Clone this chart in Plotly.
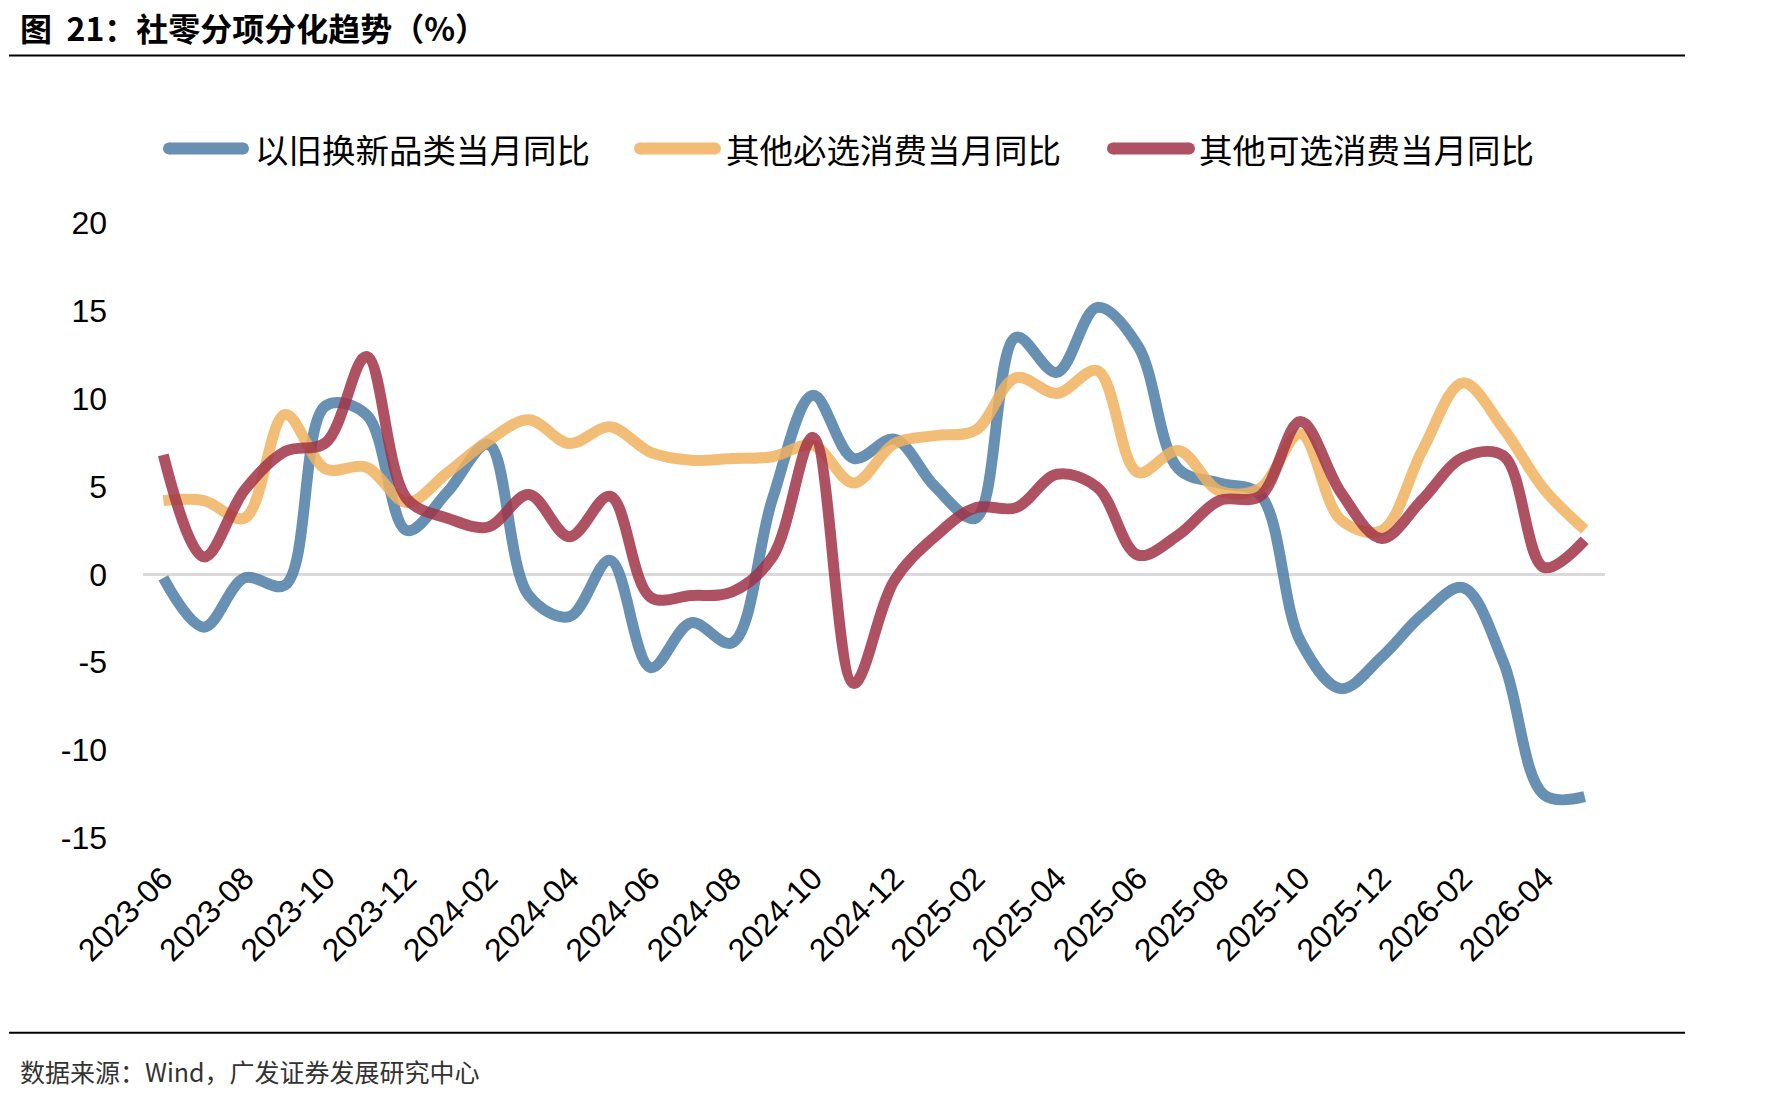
import plotly.graph_objects as go

# ---------------- data ----------------
months = [
    "2023-06", "2023-07", "2023-08", "2023-09", "2023-10", "2023-11", "2023-12",
    "2024-01", "2024-02", "2024-03", "2024-04", "2024-05", "2024-06", "2024-07",
    "2024-08", "2024-09", "2024-10", "2024-11", "2024-12", "2025-01", "2025-02",
    "2025-03", "2025-04", "2025-05", "2025-06", "2025-07", "2025-08", "2025-09",
    "2025-10", "2025-11", "2025-12", "2026-01", "2026-02", "2026-03", "2026-04",
    "2026-05",
]

trade_in = [
    -0.2, -3.0, -0.2, -0.6, 9.6, 9.1, 2.5,
    4.7, 7.4, -1.2, -2.4, 0.8, -5.3, -2.75,
    -3.9, 4.3, 10.2, 6.6, 7.7, 5.0, 3.2, 13.5,
    11.5, 15.2, 13.0, 6.0, 5.2, 4.55, -3.8,
    -6.5, -4.7, -2.3, -0.75, -5.0, -12.55, -12.65,
]

other_essential = [
    4.2, 4.2, 3.2, 9.1, 6.0, 6.1, 4.1,
    5.8, 7.6, 8.8, 7.45, 8.4, 6.95, 6.5,
    6.6, 6.7, 7.35, 5.2, 7.45, 7.9, 8.2, 11.2,
    10.3, 11.6, 5.8, 7.05, 4.75, 4.9, 8.0,
    3.1, 2.5, 7.05, 10.9, 8.3, 4.85, 2.55,
]

other_optional = [
    6.8, 1.0, 4.8, 7.0, 7.5, 12.4, 4.3,
    3.2, 2.7, 4.55, 2.15, 4.45, -1.3, -1.2,
    -1.0, 1.0, 7.8, -6.2, -0.35, 2.15, 3.8, 3.8,
    5.7, 4.95, 1.1, 2.25, 4.2, 4.45, 8.7,
    4.65, 2.05, 4.25, 6.65, 6.75, 0.4, 1.95,
]

series_names = ["以旧换新品类当月同比", "其他必选消费当月同比", "其他可选消费当月同比"]
series_values = [trade_in, other_essential, other_optional]
line_colors = ["rgba(77,124,166,0.85)", "rgba(240,177,94,0.85)", "rgba(160,52,72,0.85)"]
legend_colors = ["rgb(104,144,179)", "rgb(242,188,118)", "rgb(174,82,99)"]

y_ticks = [-15, -10, -5, 0, 5, 10, 15, 20]
y_tick_text = ["-15", "-10", "-5", "0", "5", "10", "15", "20"]

# ---------------- layout geometry (pixels) ----------------
FIG_W, FIG_H = 1790, 1101
L, R, T, B = 143, 1605, 222.6, 838

def px(x):
    return (x - L) / (R - L)

def py(y):
    return (B - y) / (B - T)

FONT_LATIN = "Liberation Sans, Arial, Noto Sans CJK SC"
FONT_CJK = "Noto Sans CJK SC, Liberation Sans"

fig = go.Figure()
for name, vals, col in zip(series_names, series_values, line_colors):
    fig.add_trace(go.Scatter(
        x=months, y=vals, mode="lines", name=name,
        line=dict(color=col, width=11, shape="spline", smoothing=1.0),
        showlegend=False,
    ))

shapes = []
annotations = []

# horizontal rules
for yy in (55, 1033):
    shapes.append(dict(type="line", xref="paper", yref="paper",
                       x0=px(9), x1=px(1685), y0=py(yy), y1=py(yy),
                       line=dict(color="black", width=2)))

# custom legend
leg_y = 148
leg_items = [(163, 249, 253), (634, 721, 724), (1107, 1195, 1197)]
for (x0, x1, xt), name, col in zip(leg_items, series_names, legend_colors):
    shapes.append(dict(type="line", xref="paper", yref="paper",
                       x0=px(x0 + 6), x1=px(x1 - 6), y0=py(leg_y), y1=py(leg_y),
                       line=dict(color=col, width=12)))
    for xc in (x0 + 6, x1 - 6):
        shapes.append(dict(type="circle", xref="paper", yref="paper",
                           xsizemode="pixel", ysizemode="pixel",
                           xanchor=px(xc), yanchor=py(leg_y),
                           x0=-6, x1=6, y0=-6, y1=6,
                           fillcolor=col, line=dict(width=0)))
    annotations.append(dict(text=name, xref="paper", yref="paper",
                            x=px(xt), y=py(leg_y), xanchor="left", yanchor="middle",
                            showarrow=False,
                            font=dict(family=FONT_CJK, size=33.5, color="black")))

# title
annotations.append(dict(text="<b>图  21：社零分项分化趋势（%）</b>", xref="paper", yref="paper",
                        x=px(19), y=py(2), xanchor="left", yanchor="top",
                        showarrow=False, borderpad=0,
                        font=dict(family=FONT_CJK, size=32, color="black")))
# source
annotations.append(dict(text="数据来源：Wind，广发证券发展研究中心", xref="paper", yref="paper",
                        x=px(18), y=py(1071), xanchor="left", yanchor="middle",
                        showarrow=False,
                        font=dict(family=FONT_CJK, size=25, color="#333333")))

fig.update_layout(
    width=FIG_W, height=FIG_H,
    margin=dict(l=L, r=FIG_W - R, t=T, b=FIG_H - B, pad=0),
    paper_bgcolor="white", plot_bgcolor="white",
    showlegend=False,
    shapes=shapes, annotations=annotations,
    font=dict(family=FONT_LATIN, color="black"),
)

fig.update_xaxes(
    type="category", range=[-0.5, len(months) - 0.5],
    tickmode="array", tickvals=months[::2], ticktext=months[::2],
    tickangle=-45, tickfont=dict(family=FONT_LATIN, size=32, color="black"),
    showgrid=False, showline=False, zeroline=False, ticks="",
    ticklabelstandoff=14,
)
fig.update_yaxes(
    range=[-15, 20], tickmode="array", tickvals=y_ticks, ticktext=y_tick_text,
    tickfont=dict(family=FONT_LATIN, size=32, color="black"),
    showgrid=False, showline=False, ticks="",
    zeroline=True, zerolinecolor="#D9D9D9", zerolinewidth=3,
    ticklabelstandoff=35,
)

fig.write_html("out.html")
